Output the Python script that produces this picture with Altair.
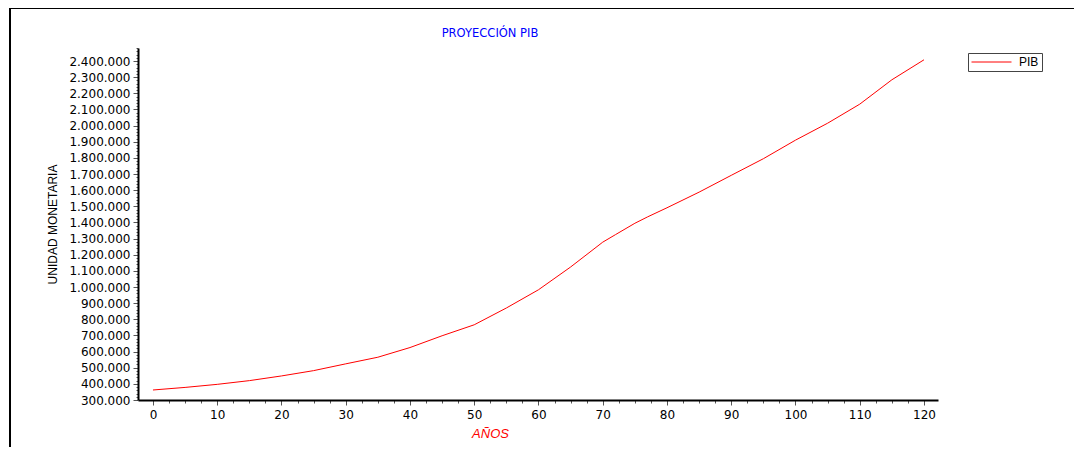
import altair as alt
import pandas as pd

# Data
years = [0, 5, 10, 15, 20, 25, 30, 35, 40, 45, 50, 55, 60,
         65, 70, 72, 75, 77, 80, 85, 90, 95, 100, 105, 110, 115, 120]
pib = [362000, 378000, 397000, 420000, 449000, 482000, 524000, 565000,
       625000, 698000, 766000, 870000, 983000, 1124000, 1278000, 1325000,
       1395000, 1435000, 1491000, 1588000, 1692000, 1795000, 1910000,
       2015000, 2133000, 2284000, 2408000]
series = ["PIB"] * len(years)
chart_title = ["PROYECCIÓN PIB"]

x_ticks = [i * 2.5 for i in range(0, 49)]
y_ticks = list(range(300000, 2480001, 20000))

df = pd.DataFrame({"anio": years, "pib": pib, "serie": series})

FONT = "DejaVu Sans"

line = alt.Chart(df).mark_line(color="#ff0000", strokeWidth=1).encode(
    x=alt.X(
        "anio:Q",
        scale=alt.Scale(domain=[-2.33, 122.18], nice=False, zero=False),
        axis=alt.Axis(
            values=x_ticks,
            labelExpr="datum.value % 10 === 0 ? datum.value : ''",
            tickSize={"condition": {"test": "datum.value % 10 === 0", "value": 5}, "value": 3},
            tickColor="#555555",
            domainColor="#000000",
            domainWidth=2,
            grid=False,
            labelFont=FONT,
            labelFontSize=12,
            labelColor="#000000",
            labelPadding=4,
            labelFlush=False,
            labelOverlap=False,
            title="AÑOS",
            titleColor="#ff0000",
            titleFont="Liberation Sans",
            titleFontSize=13,
            titleFontStyle="italic",
            titleFontWeight="normal",
            titleX=352,
            titleY=37,
            titleAlign="center",
            titleBaseline="alphabetic",
        ),
    ),
    y=alt.Y(
        "pib:Q",
        scale=alt.Scale(domain=[300000, 2481000], nice=False, zero=False),
        axis=alt.Axis(
            values=y_ticks,
            labelExpr="datum.value % 100000 === 0 ? replace(format(datum.value, ','), regexp(',', 'g'), '.') : ''",
            tickSize={"condition": {"test": "datum.value % 100000 === 0", "value": 5}, "value": 2},
            tickColor="#555555",
            domainColor="#000000",
            domainWidth=2,
            grid=False,
            labelFont=FONT,
            labelFontSize=12,
            labelColor="#000000",
            labelPadding=3,
            labelFlush=False,
            labelOverlap=False,
            title="UNIDAD MONETARIA",
            titleColor="#000000",
            titleFont="Liberation Sans",
            titleFontSize=12,
            titleFontWeight="normal",
            titleAngle=270,
            titleX=-86,
            titleY=176,
            titleAlign="center",
            titleBaseline="middle",
        ),
    ),
    color=alt.Color(
        "serie:N",
        scale=alt.Scale(domain=["PIB"], range=["#ff0000"]),
        legend=alt.Legend(
            title=None,
            orient="none",
            legendX=830,
            legendY=5,
            symbolType="stroke",
            symbolSize=1600,
            symbolStrokeWidth=1,
            clipHeight=12,
            labelFont="Liberation Sans",
            labelFontSize=12,
            labelColor="#000000",
            labelOffset=7,
            padding=3,
            strokeColor="#444444",
            fillColor="#ffffff",
        ),
    ),
)

frame = pd.DataFrame({"k": [0]})
left_border = alt.Chart(frame).mark_rule(color="#000000", strokeWidth=2).encode(
    x=alt.value(-128), y=alt.value(-40), y2=alt.value(399)
)
top_border = alt.Chart(frame).mark_rule(color="#000000", strokeWidth=2).encode(
    x=alt.value(-128), x2=alt.value(936), y=alt.value(-40)
)

title_df = pd.DataFrame({"t": chart_title})
title_text = alt.Chart(title_df).mark_text(
    color="#0000ff", font="DejaVu Sans", fontSize=11.5,
    align="center", baseline="middle",
).encode(text="t:N", x=alt.value(352), y=alt.value(-14))

chart = alt.layer(line, left_border, top_border, title_text).properties(
    width=800,
    height=352,
    padding={"left": 130, "top": 40, "right": 136, "bottom": 47},
    autosize=alt.AutoSizeParams(type="none"),
    background="#ffffff",
).configure_view(stroke=None)

chart.save("out.html", embed_options={"renderer": "svg", "actions": False})
